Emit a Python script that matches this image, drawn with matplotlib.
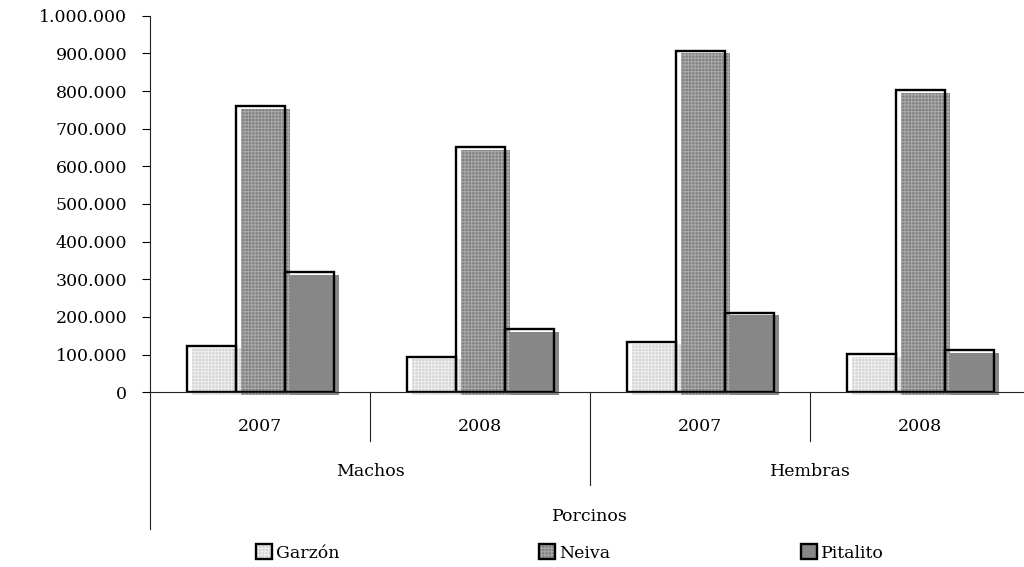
import matplotlib
matplotlib.use("Agg")
import matplotlib.pyplot as plt
import matplotlib.transforms as mtransforms
from matplotlib.patches import Rectangle
from matplotlib.legend_handler import HandlerTuple
from matplotlib.ticker import FuncFormatter, MultipleLocator
import numpy as np

# ---- data ----
years = ["2007", "2008", "2007", "2008"]
groups = ["Machos", "Hembras"]
axis_title = "Porcinos"
series_names = ["Garzón", "Neiva", "Pitalito"]
garzon = [124000, 94000, 134000, 101000]
neiva = [759000, 651000, 907000, 802000]
pitalito = [319000, 167000, 211000, 111000]

plt.rcParams['font.family'] = ['DejaVu Serif']
plt.rcParams['hatch.linewidth'] = 0.8

W, H = 1024, 567
fig = plt.figure(figsize=(W / 100, H / 100), dpi=100)
ax = fig.add_axes([150 / W, (H - 392.3) / H, 880 / W, 376.6 / H])

x = np.arange(len(years))
bw = 49 / 220
styles = [
    dict(fc="#d4d4d4", hatch="+++++", hc="#ededed"),
    dict(fc="#7e7e7e", hatch="+++++", hc="#a8a8a8"),
    dict(fc="#878787", hatch=None, hc="#878787"),
]
shift = mtransforms.ScaledTranslation(5.5 / 100, -2.5 / 100, fig.dpi_scale_trans)

all_vals = [garzon, neiva, pitalito]
# shadows (fills) first
for k, vals in enumerate(all_vals):
    st = styles[k]
    bars = ax.bar(x + (k - 1) * bw, vals, width=bw, color=st["fc"],
                  edgecolor=st["hc"], linewidth=0, hatch=st["hatch"], zorder=1)
    for b in bars:
        b.set_transform(ax.transData + shift)
        b.set_clip_on(False)
# outlines on top
for k, vals in enumerate(all_vals):
    ax.bar(x + (k - 1) * bw, vals, width=bw, facecolor="none",
           edgecolor="black", linewidth=1.7, zorder=3)

ax.set_xlim(-0.5, 3.5)
ax.set_ylim(0, 1000000)
ax.yaxis.set_major_locator(MultipleLocator(100000))
ax.yaxis.set_major_formatter(FuncFormatter(lambda v, p: f"{int(v):,}".replace(",", ".")))
ax.tick_params(axis='y', length=6, width=0.8, pad=10.5, labelsize=12.5, colors="black")
ax.tick_params(axis='x', length=0, labelbottom=False)
for s in ["top", "right"]:
    ax.spines[s].set_visible(False)
for s in ["left", "bottom"]:
    ax.spines[s].set_linewidth(0.8)
    ax.spines[s].set_color("#222222")
    ax.spines[s].set_zorder(4)

tr = ax.get_xaxis_transform()
lc = "#222222"
# multi-level axis separators
ax.plot([-0.5, -0.5], [0, -0.363], transform=tr, clip_on=False, color=lc, lw=0.8)
for xs in [0.5, 2.5]:
    ax.plot([xs, xs], [0, -0.129], transform=tr, clip_on=False, color=lc, lw=0.8)
ax.plot([1.5, 1.5], [0, -0.246], transform=tr, clip_on=False, color=lc, lw=0.8)

for i, yl in enumerate(years):
    ax.text(i, -0.091, yl, transform=tr, ha="center", va="center", fontsize=12.5)
for g, gx in zip(groups, [0.5, 2.5]):
    ax.text(gx, -0.211, g, transform=tr, ha="center", va="center", fontsize=12.5)
ax.text(1.5, -0.330, axis_title, transform=tr, ha="center", va="center", fontsize=12.5)

# legend entries
leg_x = [256, 539, 801]
for k, name in enumerate(series_names):
    st = styles[k]
    fill = Rectangle((0.25, 0), 1, 1, facecolor=st["fc"], edgecolor=st["hc"],
                     linewidth=0, hatch=st["hatch"])
    outline = Rectangle((0, 0), 1, 1, facecolor="none", edgecolor="black", linewidth=1.7)
    fig.legend(handles=[(fill, outline)], labels=[name],
               handler_map={tuple: HandlerTuple(ndivide=1)},
               loc="center left", bbox_to_anchor=(leg_x[k] / W, (H - 553) / H),
               frameon=False, fontsize=12.5, handlelength=0.95, handleheight=0.95,
               handletextpad=0.2, borderpad=0, borderaxespad=0)

fig.savefig("out.png", dpi=100)
